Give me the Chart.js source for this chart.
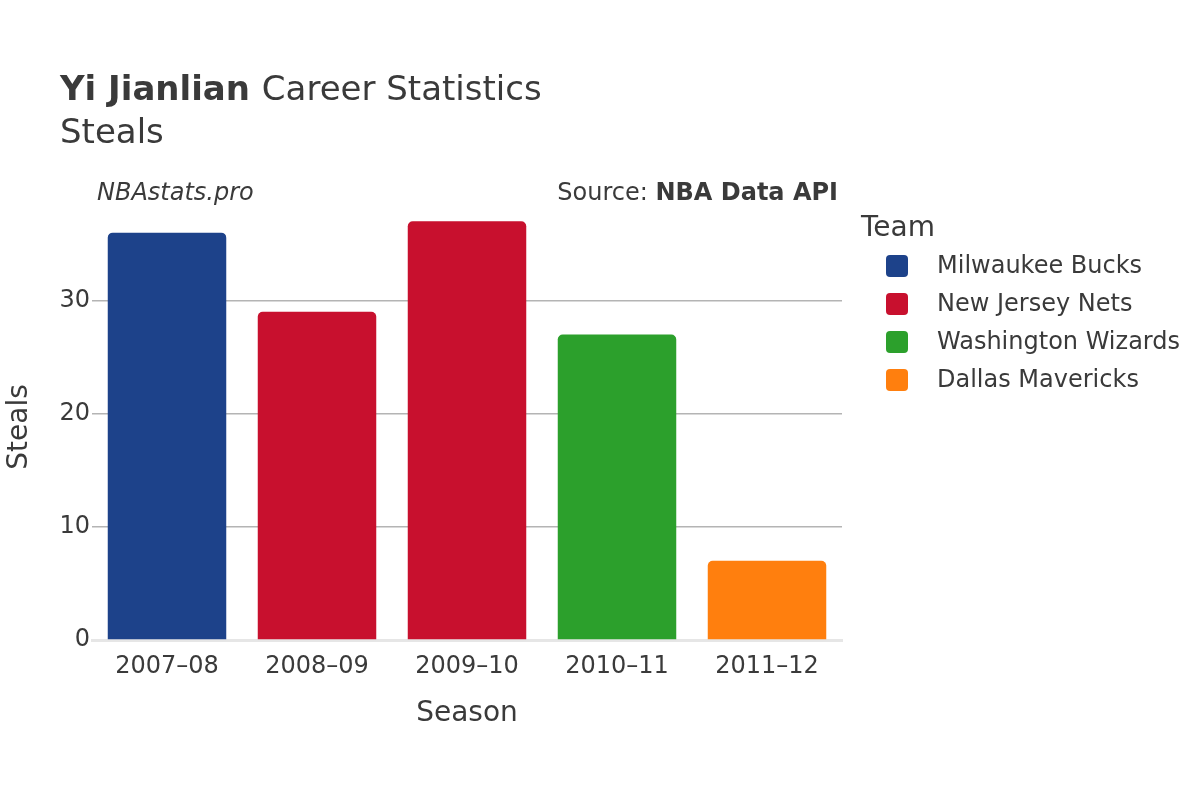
<!DOCTYPE html>
<html>
<head>
<meta charset="utf-8">
<script src="https://cdn.jsdelivr.net/npm/chart.js@4"></script>
<style>
  body { margin: 0; background: #fff; }
  #wrap { width: 1200px; height: 800px; }
</style>
</head>
<body>
<div id="wrap"><canvas id="chart" width="1200" height="800"></canvas></div>
<script>
// data
const seasons = ["2007–08", "2008–09", "2009–10", "2010–11", "2011–12"];
const steals = [36, 29, 37, 27, 7];
const seasonTeams = ["Milwaukee Bucks", "New Jersey Nets", "New Jersey Nets", "Washington Wizards", "Dallas Mavericks"];
const teams = ["Milwaukee Bucks", "New Jersey Nets", "Washington Wizards", "Dallas Mavericks"];
const teamColors = ["#1d428a", "#c8102e", "#2ca02c", "#ff7f0e"];
const yTicks = [0, 10, 20, 30];

const FONT = "'DejaVu Sans', sans-serif";
const TEXT = "#3a3a3a";

// titles, axis labels and legend drawn by hand
const decorations = {
  id: "decorations",
  afterDraw(c) {
    const ctx = c.ctx;
    const area = c.chartArea;
    ctx.save();
    ctx.fillStyle = TEXT;
    ctx.textBaseline = "alphabetic";
    ctx.textAlign = "left";
    ctx.font = "bold 34px " + FONT;
    ctx.fillText("Yi Jianlian", 60, 100);
    const w = ctx.measureText("Yi Jianlian ").width;
    ctx.font = "34px " + FONT;
    ctx.fillText("Career Statistics", 60 + w, 100);
    ctx.fillText("Steals", 60, 143);

    ctx.font = "italic 24px " + FONT;
    ctx.fillText("NBAstats.pro", 97, 200);
    ctx.textAlign = "right";
    ctx.font = "bold 24px " + FONT;
    ctx.fillText("NBA Data API", 838, 200);
    const bw = ctx.measureText("NBA Data API").width;
    ctx.font = "24px " + FONT;
    ctx.fillText("Source: ", 838 - bw, 200);

    ctx.textAlign = "center";
    ctx.font = "28px " + FONT;
    ctx.fillText("Season", (area.left + area.right) / 2, 721);
    ctx.save();
    ctx.translate(27, (area.top + area.bottom) / 2 + 2);
    ctx.rotate(-Math.PI / 2);
    ctx.fillText("Steals", 0, 0);
    ctx.restore();

    ctx.textAlign = "left";
    ctx.fillText("Team", 861, 236);
    ctx.font = "24px " + FONT;
    teams.forEach((t, i) => {
      const y = 266 + i * 38;
      ctx.fillStyle = teamColors[i];
      ctx.beginPath();
      ctx.roundRect(886, y - 11, 22, 22, 4);
      ctx.fill();
      ctx.fillStyle = TEXT;
      ctx.textBaseline = "middle";
      ctx.fillText(t, 937, y + 1);
    });
    ctx.restore();
  }
};

new Chart(document.getElementById("chart"), {
  type: "bar",
  data: {
    labels: seasons,
    datasets: [{
      data: steals,
      backgroundColor: seasonTeams.map(t => teamColors[teams.indexOf(t)]),
      borderRadius: 5,
      borderSkipped: "bottom",
      barPercentage: 0.79,
      categoryPercentage: 1
    }]
  },
  options: {
    responsive: false,
    animation: false,
    layout: { padding: { top: 210, right: 358, left: 0, bottom: 0 } },
    plugins: { legend: { display: false }, tooltip: { enabled: false } },
    scales: {
      x: {
        afterFit: s => { s.height = 160; },
        grid: { display: false },
        border: { color: "#e6e6e6", width: 3 },
        ticks: { color: TEXT, font: { family: FONT, size: 24 }, padding: 4 }
      },
      y: {
        min: 0,
        max: 38,
        afterFit: s => { s.width = 92; },
        afterBuildTicks: s => { s.ticks = yTicks.map(v => ({ value: v })); },
        border: { display: false },
        grid: { color: c => c.tick.value === 0 ? "rgba(0,0,0,0)" : "#b4b4b4", lineWidth: 1.4, drawTicks: false },
        ticks: { color: TEXT, font: { family: FONT, size: 24 }, padding: 2 }
      }
    }
  },
  plugins: [decorations]
});
</script>
</body>
</html>
